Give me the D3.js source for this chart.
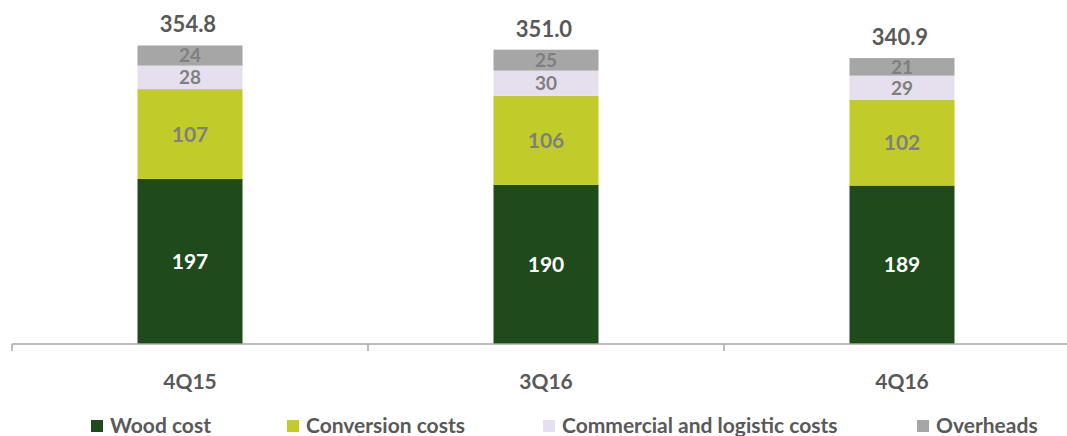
<!DOCTYPE html>
<html>
<head>
<meta charset="utf-8">
<script src="https://cdn.jsdelivr.net/npm/d3@7"></script>
<style>
  body { margin: 0; background: #fff; }
  svg text { font-family: Lato, "Open Sans", sans-serif; font-weight: bold; }
</style>
</head>
<body>
<div id="chart"></div>
<script>
// chart data
var categories = ["4Q15", "3Q16", "4Q16"];
var seriesNames = ["Wood cost", "Conversion costs", "Commercial and logistic costs", "Overheads"];
var woodCost = [197, 190, 189];
var conversionCosts = [107, 106, 102];
var commercialCosts = [28, 30, 29];
var overheads = [24, 25, 21];
var totals = ["354.8", "351.0", "340.9"];

var colors = ["#1f4a1c", "#c1cc2a", "#e6e0ee", "#a6a6a6"];
var labelColors = ["#ffffff", "#7f7f7f", "#7f7f7f", "#7f7f7f"];

var width = 1067, height = 436;
var margins = { left: 12, baseline: 344 };

var rows = categories.map(function(c, i) {
    return { cat: c, s0: woodCost[i], s1: conversionCosts[i], s2: commercialCosts[i], s3: overheads[i], total: totals[i] };
});

var stack = d3.stack().keys(["s0", "s1", "s2", "s3"]);
var layers = stack(rows);

// each category gets a band of ~356px
var x = d3.scaleBand()
    .domain(categories)
    .range([margins.left, margins.left + 356 * 3]);

var barW = 105;
var y = d3.scaleLinear().domain([0, 354.8]).range([margins.baseline, 46.5]);

var svg = d3.select("#chart").append("svg")
    .attr("width", width)
    .attr("height", height);

var g = svg.append("g");

var layer = g.selectAll("g.layer")
    .data(layers)
    .enter().append("g")
    .attr("class", "layer")
    .attr("fill", function(d, i) { return colors[i]; });

layer.selectAll("rect")
    .data(function(d) { return d; })
    .enter().append("rect")
    .attr("x", function(d) { return x(d.data.cat) + x.bandwidth() / 2 - barW / 2; })
    .attr("width", barW)
    .attr("y", function(d) { return y(d[1]); })
    .attr("height", function(d) { return y(d[0]) - y(d[1]); });

// small segments get a slightly smaller label so they fit
layer.selectAll("text")
    .data(function(d, i) { return d.map(function(p) { p.idx = i; return p; }); })
    .enter().append("text")
    .attr("x", function(d) { return x(d.data.cat) + x.bandwidth() / 2; })
    .attr("y", function(d) { return (y(d[0]) + y(d[1])) / 2; })
    .attr("dy", "0.36em")
    .attr("text-anchor", "middle")
    .attr("font-size", function(d) { return d.idx >= 2 ? 19 : 21; })
    .attr("fill", function(d) { return labelColors[d.idx]; })
    .text(function(d) { return d[1] - d[0]; });

// totals
g.selectAll("text.total")
    .data(rows)
    .enter().append("text")
    .attr("class", "total")
    .attr("x", function(d) { return x(d.cat) + x.bandwidth() / 2 - 2; })
    .attr("y", function(d) { return y(d.s0 + d.s1 + d.s2 + d.s3) - 13; })
    .attr("text-anchor", "middle")
    .attr("font-size", 22)
    .attr("fill", "#595959")
    .text(function(d) { return d.total; });

// x axis
var axis = g.append("g")
    .attr("transform", "translate(0," + margins.baseline + ")");
axis.append("line")
    .attr("x1", margins.left).attr("x2", width)
    .attr("stroke", "#a6a6a6").attr("stroke-width", 1.5);
axis.selectAll("line.tick")
    .data(categories)
    .enter().append("line")
    .attr("class", "tick")
    .attr("x1", function(d) { return x(d); })
    .attr("x2", function(d) { return x(d); })
    .attr("y1", 0).attr("y2", 7)
    .attr("stroke", "#a6a6a6").attr("stroke-width", 1.5);
axis.selectAll("text")
    .data(categories)
    .enter().append("text")
    .attr("x", function(d) { return x(d) + x.bandwidth() / 2; })
    .attr("y", 45)
    .attr("text-anchor", "middle")
    .attr("font-size", 21)
    .attr("fill", "#595959")
    .text(function(d) { return d; });

// legend
var legendX = [91, 287, 543, 917];
var legend = svg.append("g").attr("class", "legend");
var item = legend.selectAll("g")
    .data(seriesNames)
    .enter().append("g")
    .attr("transform", function(d, i) { return "translate(" + legendX[i] + ",420)"; });
item.append("rect")
    .attr("width", 12).attr("height", 12)
    .attr("fill", function(d, i) { return colors[i]; });
item.append("text")
    .attr("x", 19)
    .attr("y", 13)
    .attr("font-size", 21)
    .attr("fill", "#595959")
    .text(function(d) { return d; });
</script>
</body>
</html>
